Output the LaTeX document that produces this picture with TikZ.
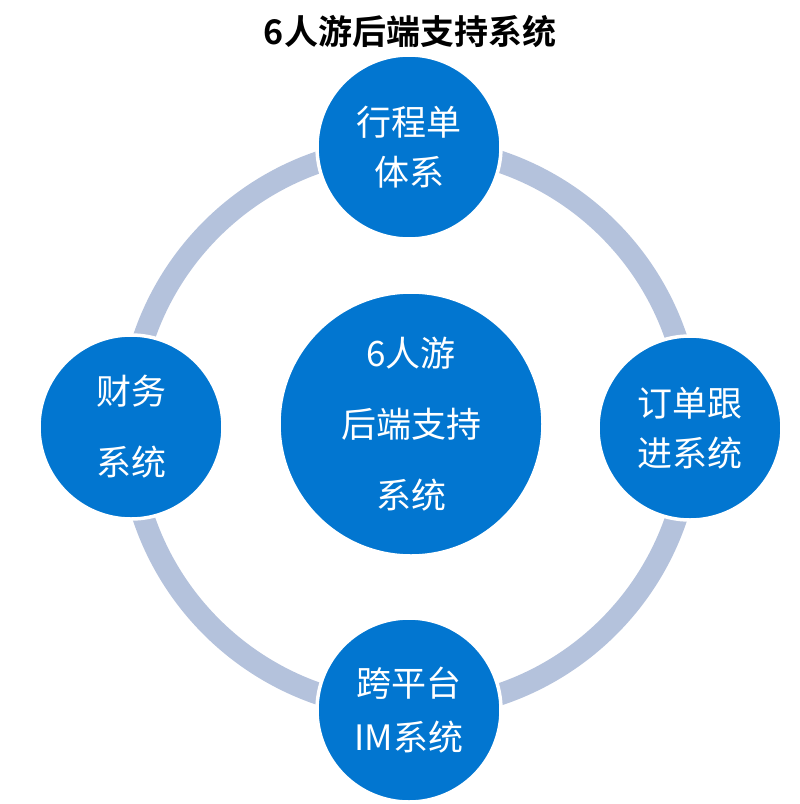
\documentclass[tikz,border=0pt]{standalone}
\usepackage{fontspec}
\newfontfamily\cjk{Noto Sans CJK SC}
\newfontfamily\cjkbold{Noto Sans CJK SC Bold}
\definecolor{ringcol}{RGB}{180,194,220}
\definecolor{nodeblue}{RGB}{2,118,208}
\begin{document}
\begin{tikzpicture}[x=1pt,y=-1pt,
  sat/.style={circle,fill=nodeblue,draw=white,line width=3.5pt,minimum size=184pt,inner sep=0pt,
    text=white,font=\cjk\fontsize{35}{50}\selectfont,align=center},
  hub/.style={sat,minimum size=264pt},
  ringline/.style={draw=ringcol,line width=22pt}]
\useasboundingbox (0,0) rectangle (800,804);
\coordinate (c) at (410,428);
\draw[ringline] (c) circle[radius=281pt];
\node[font=\cjkbold\fontsize{34}{40}\selectfont] (title) at (410,32) {6人游后端支持系统};
\node[hub,font=\cjk\fontsize{35}{71}\selectfont] (hubnode) at (411,424) {6人游\\后端支持\\系统};
\node[sat] (top) at (409,147) {行程单\\体系};
\node[sat,font=\cjk\fontsize{35}{71}\selectfont] (left) at (131,427) {财务\\系统};
\node[sat] (right) at (690,428) {订单跟\\进系统};
\node[sat,font=\cjk\fontsize{35}{54}\selectfont] (bottom) at (409,710) {跨平台\\IM系统};
\end{tikzpicture}
\end{document}
